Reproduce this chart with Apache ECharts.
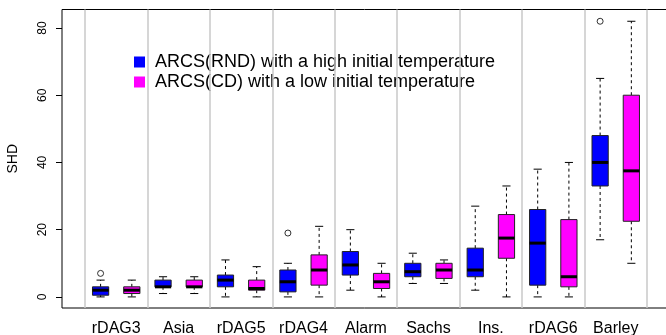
<!DOCTYPE html>
<html>
<head>
<meta charset="utf-8">
<script src="https://cdn.jsdelivr.net/npm/echarts@6/dist/echarts.min.js"></script>
<style>
  html, body { margin: 0; padding: 0; background: #fff; }
  #chart { width: 666px; height: 335px; }
</style>
</head>
<body>
<div id="chart"></div>
<script>
// categories along the x axis
const categories = ['rDAG3', 'Asia', 'rDAG5', 'rDAG4', 'Alarm', 'Sachs', 'Ins.', 'rDAG6', 'Barley'];

// box stats per category: [min, q1, median, q3, max]
const rndStats = [
  [0, 0.5, 2, 3, 5],
  [1, 3, 3, 5, 6],
  [0, 3, 5, 6.5, 11],
  [0, 1.5, 4.5, 8, 10],
  [2, 6.5, 9.5, 13.5, 20],
  [4, 6, 7.5, 10, 13],
  [2, 6, 8, 14.5, 27],
  [0, 3.5, 16, 26, 38],
  [17, 33, 40, 48, 65]
];
const cdStats = [
  [0, 1, 2, 3, 5],
  [1, 3, 3, 5, 6],
  [0, 2, 2.5, 5, 9],
  [0, 3.5, 8, 12.5, 21],
  [0, 2.5, 4.5, 7, 10],
  [4, 5.5, 8, 10, 11],
  [0, 11.5, 17.5, 24.5, 33],
  [0, 3, 6, 23, 40],
  [10, 22.5, 37.5, 60, 82]
];
// outliers: [category index, value]
const rndOutliers = [[0, 7], [3, 19], [8, 82]];
const cdOutliers = [];

const yTicks = [0, 20, 40, 60, 80];
const separators = [0.5, 1.5, 2.5, 3.5, 4.5, 5.5, 6.5, 7.5, 8.5, 9.5];

const names = ['ARCS(RND) with a high initial temperature', 'ARCS(CD) with a low initial temperature'];
const colors = ['#0000ff', '#ff00ff'];
const offset = 0.25;   // box shift from category centre
const boxWidth = 0.26; // in x units
const font = "'Liberation Sans', Arial, Helvetica, sans-serif";

// draw one R-style box: dashed whiskers, caps, filled box, thick median
function renderBox(params, api) {
  const x = api.value(0);
  const pMin = api.coord([x, api.value(1)]);
  const pQ1 = api.coord([x, api.value(2)]);
  const pMed = api.coord([x, api.value(3)]);
  const pQ3 = api.coord([x, api.value(4)]);
  const pMax = api.coord([x, api.value(5)]);
  const half = api.size([boxWidth / 2, 0])[0];
  const cap = half / 2;
  const cx = pMed[0];
  const dash = { stroke: '#000', lineWidth: 1, lineDash: [3, 3] };
  const solid = { stroke: '#000', lineWidth: 1 };
  return {
    type: 'group',
    children: [
      { type: 'line', shape: { x1: cx, y1: pQ3[1], x2: cx, y2: pMax[1] }, style: dash },
      { type: 'line', shape: { x1: cx, y1: pQ1[1], x2: cx, y2: pMin[1] }, style: dash },
      { type: 'line', shape: { x1: cx - cap, y1: pMax[1], x2: cx + cap, y2: pMax[1] }, style: solid },
      { type: 'line', shape: { x1: cx - cap, y1: pMin[1], x2: cx + cap, y2: pMin[1] }, style: solid },
      {
        type: 'rect',
        shape: { x: cx - half, y: pQ3[1], width: half * 2, height: pQ1[1] - pQ3[1] },
        style: { fill: api.visual('color'), stroke: '#222', lineWidth: 1 }
      },
      { type: 'line', shape: { x1: cx - half, y1: pMed[1], x2: cx + half, y2: pMed[1] }, style: { stroke: '#000', lineWidth: 3 } }
    ]
  };
}

const chart = echarts.init(document.getElementById('chart'));

const boxSeries = [rndStats, cdStats].map((stats, k) => ({
  name: names[k],
  type: 'custom',
  renderItem: renderBox,
  itemStyle: { color: colors[k] },
  encode: { x: 0, y: [1, 2, 3, 4, 5] },
  data: stats.map((s, i) => [i + 1 + (k === 0 ? -offset : offset)].concat(s)),
  z: 3
}));

boxSeries[0].markLine = {
  silent: true,
  symbol: ['none', 'none'],
  label: { show: false },
  lineStyle: { color: '#c8c8c8', type: 'solid', width: 1.5 },
  data: separators.map(v => ({ xAxis: v }))
};

const outlierSeries = [rndOutliers, cdOutliers].map((pts, k) => ({
  type: 'scatter',
  symbol: 'circle',
  symbolSize: 6,
  itemStyle: { color: '#fff', borderColor: '#000', borderWidth: 1 },
  data: pts.map(p => [p[0] + 1 + (k === 0 ? -offset : offset), p[1]]),
  z: 4
}));

chart.setOption({
  animation: false,
  textStyle: { fontFamily: font },
  grid: {
    left: 62, right: -2, top: 9.5, bottom: 27,
    outerBoundsMode: 'none',
    containLabel: false,
    show: true, borderColor: '#000', borderWidth: 1, backgroundColor: 'transparent'
  },
  legend: {
    data: names,
    orient: 'vertical',
    left: 134,
    top: 52,
    padding: 0,
    itemWidth: 11,
    itemHeight: 11,
    itemGap: 0,
    icon: 'rect',
    selectedMode: false,
    textStyle: { fontSize: 18, color: '#000', fontFamily: font, lineHeight: 20, padding: [0, 0, 0, 5] }
  },
  xAxis: {
    type: 'value',
    min: 0.132,
    max: 9.805 + 2 / 62.44,
    axisLine: { show: false },
    axisTick: { show: false },
    splitLine: { show: false },
    axisLabel: {
      customValues: categories.map((c, i) => i + 1),
      formatter: v => categories[Math.round(v) - 1],
      fontSize: 16,
      color: '#000',
      margin: 13
    }
  },
  yAxis: {
    type: 'value',
    min: -3.3,
    max: 85.5,
    name: 'SHD',
    nameLocation: 'middle',
    nameRotate: 90,
    nameGap: 42,
    nameTextStyle: { fontSize: 14, color: '#000' },
    axisLine: { show: false },
    splitLine: { show: false },
    axisTick: { show: true, customValues: yTicks, length: 6, lineStyle: { color: '#000' } },
    axisLabel: { customValues: yTicks, rotate: 90, fontSize: 12, color: '#000', margin: 13 }
  },
  series: boxSeries.concat(outlierSeries)
});
</script>
</body>
</html>
